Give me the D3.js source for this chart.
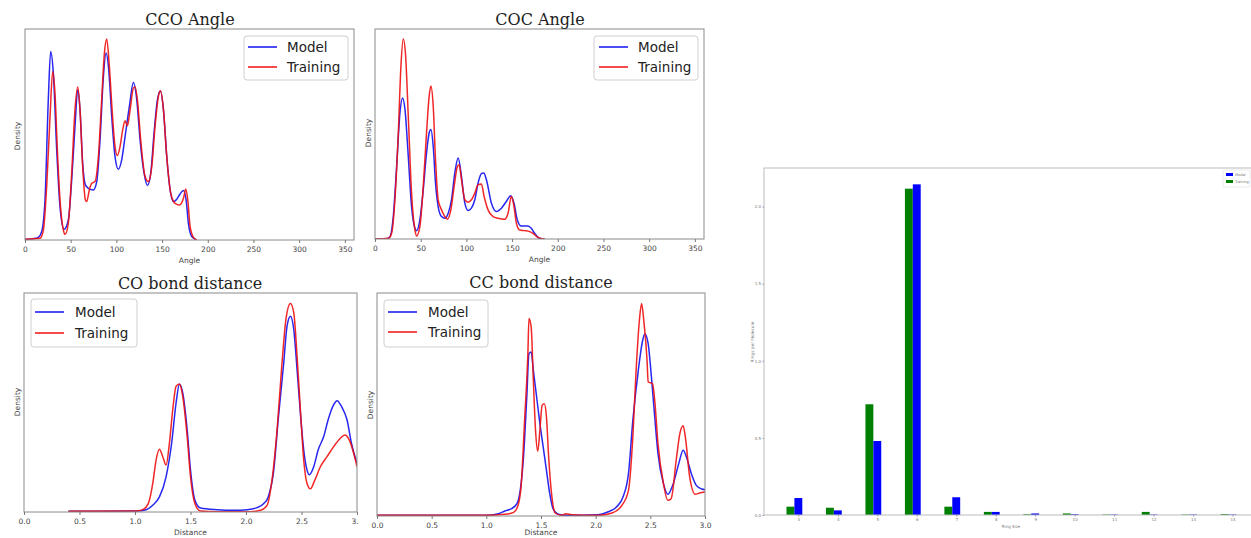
<!DOCTYPE html>
<html><head><meta charset="utf-8">
<script src="https://cdn.jsdelivr.net/npm/d3@7"></script>
<style>body{margin:0;background:#fff;} svg{display:block;}</style>
</head><body>
<svg id="c" width="1251" height="538"></svg>
<script>
// ---------- data ----------
const angleTicks = [0, 50, 100, 150, 200, 250, 300, 350];
const distanceTicks = [0, 0.5, 1, 1.5, 2, 2.5, 3];

// density in arbitrary units, [x, density]
const ccoModel = [[0,2],[9.1,4],[14.6,8],[18.2,25],[21.9,120],[25.5,420],[28.1,565],[31.0,500],[34.7,270],[38.3,100],[42.7,32],[47.4,60],[51.1,180],[54.7,340],[57.7,450],[60.2,390],[63.1,230],[66.1,165],[69.3,155],[74.8,150],[78.5,175],[82.1,300],[85.8,490],[88.7,560],[91.6,510],[94.9,370],[98.5,250],[102.2,212],[105.8,240],[109.5,310],[114.2,400],[118.6,472],[122.3,420],[125.9,300],[130.3,200],[133.9,163],[137.6,200],[141.2,320],[144.9,420],[148.2,446],[151.5,390],[155.1,250],[158.8,150],[162.4,115],[166.1,122],[169.7,138],[173.4,148],[176.3,120],[178.8,50],[182.5,10],[188,0]];
const ccoTraining = [[0,2],[16.4,5],[20.1,30],[23.7,160],[27.4,370],[30.3,505],[32.8,440],[35.4,270],[38.3,120],[42.0,30],[43.8,17],[47.4,50],[51.1,200],[54.7,390],[57.7,458],[60.2,390],[63.1,220],[66.1,120],[67.5,115],[70.4,150],[73.0,170],[76.6,175],[80.3,250],[83.9,420],[86.9,560],[89.4,602],[92.3,520],[95.3,390],[98.5,280],[101.1,253],[104.0,280],[106.9,330],[109.5,357],[112.0,342],[115.0,390],[118.6,455],[120.4,458],[123.0,420],[126.6,300],[131.4,190],[135.0,175],[138.7,220],[142.3,340],[146.0,430],[148.2,447],[151.5,390],[155.1,250],[159.5,140],[164.2,110],[169.0,105],[173.4,125],[175.9,153],[178.1,120],[180.7,40],[184.3,8],[188,0]];

const cocModel = [[0,0],[12.7,1],[16.4,7],[20,67],[23.7,217],[27.3,377],[30.2,421],[32.8,387],[36.4,247],[40,97],[43.7,32],[45.5,25],[49.1,57],[52.8,147],[56.4,257],[59.3,317],[61.1,327],[63.7,277],[66.2,167],[69.1,97],[72.8,67],[76.4,62],[80.1,77],[83.7,117],[87.3,197],[91,242],[94.6,187],[98.3,107],[101.9,85],[105.5,92],[109.2,117],[112.8,167],[116.4,195],[119,197],[121.9,177],[127.4,107],[132.8,82],[138.3,92],[143.7,112],[148.5,129],[152.1,107],[155.7,57],[160.1,39],[167.4,39],[171,32],[174.7,17],[180.1,2],[185.6,0]];
const cocTraining = [[0,0],[14.6,2],[18.2,17],[21.8,117],[25.5,317],[28.4,517],[30.9,597],[33.5,547],[36.4,367],[40,137],[43.7,27],[45.5,9],[49.1,37],[52.8,157],[56.4,317],[59.3,427],[61.1,457],[63.7,397],[66.2,237],[69.1,117],[72.8,87],[76.4,67],[79.3,59],[83,87],[86.6,157],[90.2,217],[92.1,222],[94.6,177],[98.3,117],[101.9,110],[105.5,117],[109.2,137],[112.8,162],[116.4,164],[119.4,127],[123.7,87],[129.2,67],[134.6,62],[141.9,59],[145.6,77],[149.2,127],[152.1,97],[154.7,47],[158.3,27],[163.8,25],[169.2,22],[172.9,17],[178.3,5],[185.6,0]];

const coModel = [[0.40,2],[0.68,2],[1.01,3],[1.10,7],[1.16,20],[1.22,45],[1.28,105],[1.33,205],[1.37,325],[1.40,381],[1.43,355],[1.47,245],[1.50,125],[1.54,35],[1.59,12],[1.74,7],[1.89,5],[2.01,7],[2.10,13],[2.16,25],[2.20,45],[2.25,125],[2.29,275],[2.34,445],[2.37,555],[2.40,584],[2.43,545],[2.46,425],[2.49,295],[2.52,185],[2.55,125],[2.57,111],[2.61,135],[2.65,185],[2.70,225],[2.74,275],[2.79,320],[2.82,332],[2.86,315],[2.91,275],[2.95,205],[3.0,145]];
const coTraining = [[0.40,2],[1.01,3],[1.07,7],[1.12,25],[1.16,85],[1.19,155],[1.22,187],[1.25,165],[1.28,140],[1.31,205],[1.34,305],[1.37,375],[1.40,382],[1.43,345],[1.47,225],[1.50,105],[1.54,25],[1.59,3],[1.74,1],[2.04,1],[2.13,5],[2.19,20],[2.23,85],[2.28,245],[2.32,425],[2.36,575],[2.40,622],[2.43,595],[2.46,465],[2.49,305],[2.52,155],[2.55,85],[2.58,69],[2.62,95],[2.67,135],[2.73,165],[2.79,195],[2.85,220],[2.89,230],[2.93,215],[2.97,175],[3.0,135]];

const ccModel = [[0,2],[1.0,2],[1.11,7],[1.17,15],[1.23,22],[1.28,37],[1.31,77],[1.34,177],[1.37,357],[1.39,487],[1.41,492],[1.43,437],[1.46,357],[1.49,277],[1.52,207],[1.55,137],[1.58,67],[1.61,22],[1.66,5],[1.72,2],[2.02,4],[2.11,12],[2.19,27],[2.25,57],[2.30,127],[2.34,287],[2.39,437],[2.43,527],[2.45,547],[2.48,517],[2.51,417],[2.54,297],[2.57,187],[2.62,97],[2.66,65],[2.71,97],[2.76,157],[2.80,197],[2.83,177],[2.88,122],[2.92,92],[2.97,81],[3.0,79]];
const ccTraining = [[0,2],[1.0,2],[1.17,5],[1.25,11],[1.29,32],[1.32,97],[1.35,287],[1.38,487],[1.39,592],[1.41,567],[1.43,407],[1.45,257],[1.47,194],[1.49,257],[1.51,332],[1.53,337],[1.55,297],[1.57,177],[1.60,57],[1.63,9],[1.69,2],[1.73,7],[1.78,4],[2.02,2],[2.15,9],[2.24,32],[2.30,77],[2.34,237],[2.37,437],[2.40,587],[2.42,637],[2.44,587],[2.47,467],[2.48,402],[2.52,397],[2.54,347],[2.57,217],[2.62,97],[2.66,47],[2.69,52],[2.74,177],[2.77,247],[2.80,271],[2.82,237],[2.86,117],[2.91,65],[2.95,69],[3.0,72]];

const ringSizes = [3,4,5,6,7,8,9,10,11,12,13,14];
const ringModel = [0.11,0.03,0.48,2.144,0.115,0.02,0.01,0.005,0.003,0.003,0.003,0.003];
const ringTraining = [0.054,0.047,0.718,2.116,0.054,0.02,0.005,0.01,0.003,0.02,0.003,0.006];
const barYTicks = [0, 0.5, 1.0, 1.5, 2.0];
const seriesNames = ["Model", "Training"];

// ---------- drawing ----------
const svg = d3.select("#c");
svg.append("rect").attr("width",1251).attr("height",538).attr("fill","#fff");
const SANS = "DejaVu Sans, sans-serif";
const SERIF = "DejaVu Serif, serif";
const SPINE = "#8a8a8a";

const panels = [
  {title:"CCO Angle", box:[25,29,354,240], domain:[0,360], ticks:angleTicks, fmt:d3.format("d"), xlabel:"Angle",
   titleX:190, titleY:25, xlabelY:263, densX:17, densY:136, model:ccoModel, training:ccoTraining,
   legend:{x:244,y:36,w:104,h:44,lx0:248,lx1:277,tx:287,y1:47,y2:67}},
  {title:"COC Angle", box:[375,29,704,239], domain:[0,360], ticks:angleTicks, fmt:d3.format("d"), xlabel:"Angle",
   titleX:540, titleY:25, xlabelY:262, densX:368, densY:133, model:cocModel, training:cocTraining,
   legend:{x:594,y:36,w:104,h:44,lx0:599,lx1:628,tx:638,y1:47,y2:67}},
  {title:"CO bond distance", box:[24,293,357,512], domain:[0,3], ticks:distanceTicks, fmt:d3.format(".1f"), xlabel:"Distance",
   titleX:190, titleY:289, xlabelY:535, densX:17, densY:402, model:coModel, training:coTraining,
   legend:{x:31,y:299,w:106,h:48,lx0:35,lx1:64,tx:75,y1:312,y2:333}},
  {title:"CC bond distance", box:[377,293,705,516], domain:[0,3], ticks:distanceTicks, fmt:d3.format(".1f"), xlabel:"Distance",
   titleX:541, titleY:288, xlabelY:535, densX:370, densY:405, model:ccModel, training:ccTraining,
   legend:{x:384,y:300,w:104,h:47,lx0:388,lx1:417,tx:428,y1:312,y2:332}, cover:true}
];

panels.forEach((p, i) => {
  const [x0,y0,x1,y1] = p.box;
  const g = svg.append("g");
  if (p.cover) g.append("rect").attr("x",359).attr("y",268).attr("width",352).attr("height",270).attr("fill","#fff");
  const x = d3.scaleLinear().domain(p.domain).range([x0,x1]);
  const ymax = d3.max(p.model.concat(p.training), d => d[1]) * 1.05;
  const y = d3.scaleLinear().domain([0, ymax]).range([y1,y0]);
  const clipId = "clip" + i;
  g.append("clipPath").attr("id",clipId).append("rect").attr("x",x0).attr("y",y0).attr("width",x1-x0).attr("height",y1-y0);
  const line = d3.line().x(d => x(d[0])).y(d => y(d[1])).curve(d3.curveMonotoneX);
  const lg = g.append("g").attr("clip-path",`url(#${clipId})`);
  lg.append("path").attr("d", line(p.model)).attr("fill","none").attr("stroke","#1010f0").attr("stroke-width",1.5).attr("stroke-opacity",0.9);
  lg.append("path").attr("d", line(p.training)).attr("fill","none").attr("stroke","#f01010").attr("stroke-width",1.5).attr("stroke-opacity",0.9);
  g.append("rect").attr("x",x0).attr("y",y0).attr("width",x1-x0).attr("height",y1-y0)
    .attr("fill","none").attr("stroke",SPINE).attr("stroke-width",1);
  const ax = g.append("g").attr("transform",`translate(0,${y1})`)
    .call(d3.axisBottom(x).tickValues(p.ticks).tickFormat(p.fmt).tickSize(3).tickPadding(3.5));
  ax.select(".domain").remove();
  ax.selectAll("line").attr("stroke","#777");
  ax.selectAll("text").attr("font-family",SANS).attr("font-size","7.5px").attr("fill","#444");
  g.append("text").attr("x",(x0+x1)/2).attr("y",p.xlabelY).attr("text-anchor","middle")
    .attr("font-family",SANS).attr("font-size","7.5px").attr("fill","#444").text(p.xlabel);
  g.append("text").attr("transform",`translate(${p.densX},${p.densY}) rotate(-90)`).attr("text-anchor","middle")
    .attr("dy","0.35em").attr("font-family",SANS).attr("font-size","7.5px").attr("fill","#444").text("Density");
  g.append("text").attr("x",p.titleX).attr("y",p.titleY).attr("text-anchor","middle")
    .attr("font-family",SERIF).attr("font-size","16px").attr("fill","#222").text(p.title);
  const L = p.legend;
  g.append("rect").attr("x",L.x).attr("y",L.y).attr("width",L.w).attr("height",L.h).attr("rx",3)
    .attr("fill","#fff").attr("fill-opacity",0.85).attr("stroke","#d0d0d0");
  [["#1010f0",L.y1,seriesNames[0]],["#f01010",L.y2,seriesNames[1]]].forEach(([c,yy,t]) => {
    g.append("line").attr("x1",L.lx0).attr("x2",L.lx1).attr("y1",yy).attr("y2",yy).attr("stroke",c).attr("stroke-width",1.5);
    g.append("text").attr("x",L.tx).attr("y",yy).attr("dy","0.35em").attr("font-family",SANS)
      .attr("font-size","13.5px").attr("fill","#222").text(t);
  });
});

// ---------- bar chart ----------
const bg = svg.append("g");
const bx = d3.scaleLinear().domain([2.13, 14.67]).range([764, 1259]);
const by = d3.scaleLinear().domain([0, 2.25]).range([515, 168]);
const bw = 0.2;
bg.selectAll("rect.tr").data(ringSizes).join("rect").attr("class","tr")
  .attr("x", (d) => bx(d - 1.5*bw)).attr("width", bx(bw) - bx(0))
  .attr("y", (d,i) => by(ringTraining[i])).attr("height", (d,i) => by(0) - by(ringTraining[i]))
  .attr("fill","#008000");
bg.selectAll("rect.md").data(ringSizes).join("rect").attr("class","md")
  .attr("x", (d) => bx(d - 0.5*bw)).attr("width", bx(bw) - bx(0))
  .attr("y", (d,i) => by(ringModel[i])).attr("height", (d,i) => by(0) - by(ringModel[i]))
  .attr("fill","#0000ff");
bg.append("rect").attr("x",764).attr("y",168).attr("width",1259-764).attr("height",515-168)
  .attr("fill","none").attr("stroke","#bbb").attr("stroke-width",1);
const bxa = bg.append("g").attr("transform","translate(0,515)")
  .call(d3.axisBottom(bx).tickValues(ringSizes).tickFormat(d3.format("d")).tickSize(1.5).tickPadding(2));
bxa.select(".domain").remove();
const bya = bg.append("g").attr("transform","translate(764,0)")
  .call(d3.axisLeft(by).tickValues(barYTicks).tickFormat(d3.format(".1f")).tickSize(1.5).tickPadding(1.5));
bya.select(".domain").remove();
[bxa, bya].forEach(a => {
  a.selectAll("line").attr("stroke","#999");
  a.selectAll("text").attr("font-family",SANS).attr("font-size","4px").attr("fill","#777");
});
bg.append("text").attr("x",1011).attr("y",528).attr("text-anchor","middle").attr("font-family",SANS)
  .attr("font-size","4px").attr("fill","#777").text("Ring Size");
bg.append("text").attr("transform","translate(752,342) rotate(-90)").attr("text-anchor","middle").attr("dy","0.35em")
  .attr("font-family",SANS).attr("font-size","4.3px").attr("fill","#777").text("Rings per Molecule");
bg.append("rect").attr("x",1223).attr("y",170).attr("width",27).attr("height",17).attr("rx",1)
  .attr("fill","#fff").attr("stroke","#ddd").attr("stroke-width",0.6);
[["#0000ff",174.5,seriesNames[0]],["#008000",181.5,seriesNames[1]]].forEach(([c,yy,t]) => {
  bg.append("rect").attr("x",1226).attr("y",yy-1.5).attr("width",7).attr("height",3).attr("fill",c);
  bg.append("text").attr("x",1235).attr("y",yy).attr("dy","0.35em").attr("font-family",SANS)
    .attr("font-size","3.5px").attr("fill","#777").text(t);
});
</script>
</body></html>
